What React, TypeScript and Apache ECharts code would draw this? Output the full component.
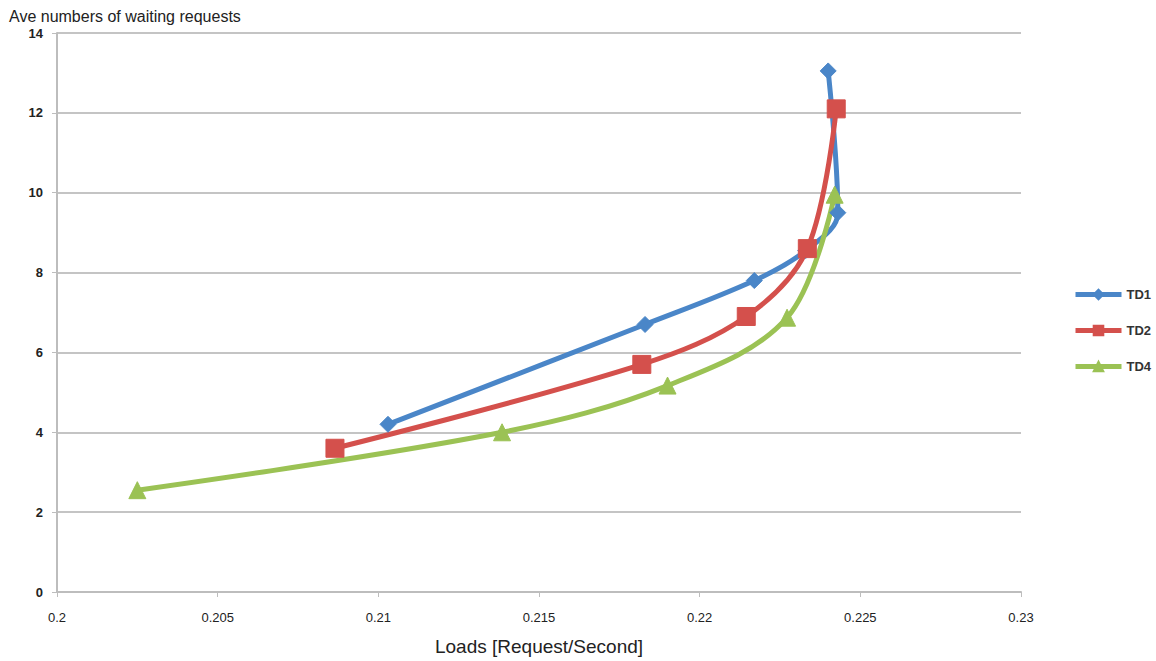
import React, { useEffect, useRef } from "react";
import * as echarts from "echarts";

const xTicks = [0.2, 0.205, 0.21, 0.215, 0.22, 0.225, 0.23];
const td1Loads = [0.2103, 0.2183, 0.2217, 0.2233, 0.2243, 0.2240];
const td1Waiting = [4.2, 6.7, 7.8, 8.55, 9.5, 13.05];
const td2Loads = [0.20865, 0.2182, 0.22145, 0.22335, 0.22425];
const td2Waiting = [3.6, 5.7, 6.9, 8.6, 12.1];
const td4Loads = [0.2025, 0.21385, 0.219, 0.22272, 0.2242];
const td4Waiting = [2.55, 4.0, 5.17, 6.87, 9.95];

const zip = (a: number[], b: number[]) => a.map((v, i) => [v, b[i]]);

export default function App() {
  const ref = useRef<HTMLDivElement>(null);
  useEffect(() => {
    const chart = echarts.init(ref.current!, null, { renderer: "svg" });
    const mk = (name: string, data: number[][], color: string, symbol: string, size: number) => ({
      name,
      type: "line",
      data,
      smooth: 0.35,
      symbol,
      symbolSize: size,
      lineStyle: { color, width: 5 },
      itemStyle: { color, borderColor: color, borderWidth: 1 },
    });
    chart.setOption({
      animation: false,
      backgroundColor: "#ffffff",
      title: {
        text: "Ave numbers of waiting requests",
        left: 4,
        top: 3,
        textStyle: { fontFamily: "Liberation Sans", fontSize: 16, fontWeight: "normal", color: "#222" },
      },
      legend: {
        orient: "vertical",
        left: 1068,
        top: 283,
        itemGap: 23,
        itemWidth: 46,
        itemHeight: 12,
        lineStyle: { width: 5 },
        textStyle: { fontFamily: "Liberation Sans", fontSize: 13, fontWeight: "bold", color: "#333" },
        data: ["TD1", "TD2", "TD4"],
      },
      grid: { left: 57, right: 135, top: 33, bottom: 67 },
      xAxis: {
        type: "value",
        min: xTicks[0],
        max: xTicks[xTicks.length - 1],
        interval: 0.005,
        name: "Loads [Request/Second]",
        nameLocation: "middle",
        nameGap: 45,
        nameTextStyle: { fontFamily: "Liberation Sans", fontSize: 19, color: "#222" },
        axisLine: { lineStyle: { color: "#bdbdbd", width: 2 } },
        axisTick: { show: true, length: 5, lineStyle: { color: "#bdbdbd", width: 1 } },
        splitLine: { show: false },
        axisLabel: {
          fontFamily: "Liberation Sans Narrow, Liberation Sans",
          fontSize: 13,
          color: "#222",
          margin: 19,
          formatter: (v: number) => String(parseFloat(v.toFixed(3))),
        },
      },
      yAxis: {
        type: "value",
        min: 0,
        max: 14,
        interval: 2,
        axisLine: { show: true, lineStyle: { color: "#bdbdbd", width: 2 } },
        axisTick: { show: true, length: 5, lineStyle: { color: "#bdbdbd" } },
        splitLine: { lineStyle: { color: "#c4c4c4", width: 2 } },
        axisLabel: {
          fontFamily: "Liberation Sans",
          fontSize: 13,
          fontWeight: "bold",
          color: "#222",
          margin: 14,
        },
      },
      series: [
        mk("TD1", zip(td1Loads, td1Waiting), "#4a86c8", "diamond", 16),
        mk("TD2", zip(td2Loads, td2Waiting), "#d4504c", "rect", 18),
        mk("TD4", zip(td4Loads, td4Waiting), "#9bc254", "triangle", 17),
      ],
    });
    return () => chart.dispose();
  }, []);
  return <div ref={ref} style={{ width: 1156, height: 661, position: "absolute", left: 0, top: 0 }} />;
}
